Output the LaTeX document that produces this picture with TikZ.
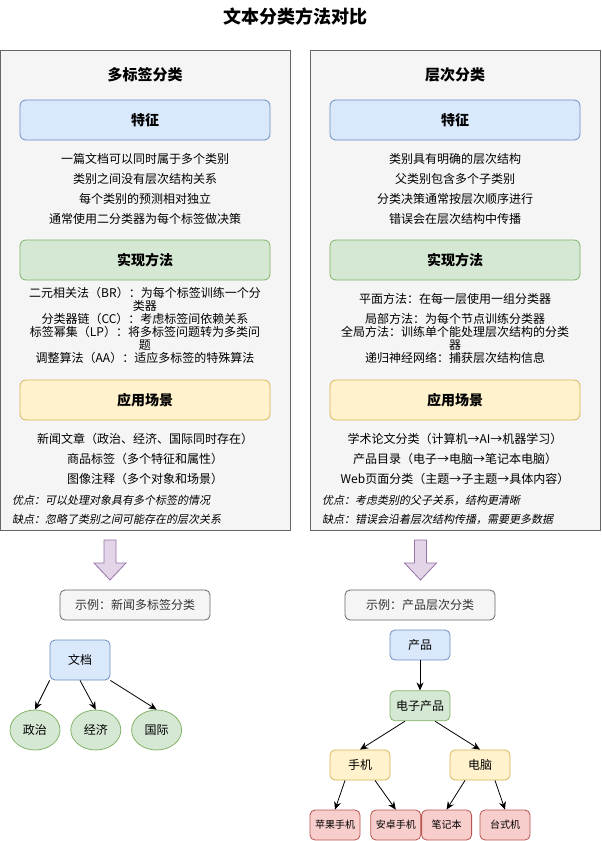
\documentclass[tikz,border=0pt]{standalone}
\usepackage{fontspec}
\setmainfont{Noto Sans CJK SC}
\newfontfamily\slantfont[FakeSlant=0.2]{Noto Sans CJK SC}
\usetikzlibrary{shapes.geometric, arrows.meta, positioning}
\usepackage{xcolor}
\definecolor{panelfill}{HTML}{F5F5F5}
\definecolor{paneldraw}{HTML}{666666}
\definecolor{blufill}{HTML}{DAE8FC}
\definecolor{bludraw}{HTML}{6C8EBF}
\definecolor{grnfill}{HTML}{D5E8D4}
\definecolor{grndraw}{HTML}{82B366}
\definecolor{ylwfill}{HTML}{FFF2CC}
\definecolor{ylwdraw}{HTML}{D6B656}
\definecolor{redfill}{HTML}{F8CECC}
\definecolor{reddraw}{HTML}{B85450}
\definecolor{prpfill}{HTML}{E1D5E7}
\definecolor{prpdraw}{HTML}{9673A6}
\definecolor{txtgray}{HTML}{333333}

\begin{document}
\begin{tikzpicture}[
    x=1pt, y=-1pt,
    node distance=10pt,
    panel/.style={rectangle, draw=paneldraw, fill=panelfill, line width=0.8pt,
                  minimum width=290pt, minimum height=480pt, inner sep=0pt},
    ptitle/.style={font=\fontsize{15pt}{18pt}\selectfont\bfseries},
    secbox/.style={rectangle, rounded corners=6pt, line width=0.8pt,
                   minimum width=250pt, minimum height=40pt, inner sep=0pt,
                   font=\fontsize{14pt}{16pt}\selectfont\bfseries},
    feat/.style={secbox, draw=bludraw, fill=blufill},
    meth/.style={secbox, draw=grndraw, fill=grnfill},
    appl/.style={secbox, draw=ylwdraw, fill=ylwfill},
    body/.style={align=center, inner sep=0pt, font=\fontsize{12pt}{20pt}\selectfont},
    tight/.style={align=center, inner sep=0pt, font=\fontsize{12pt}{13pt}\selectfont},
    note/.style={align=left, inner sep=0pt, anchor=west,
                 font=\fontsize{11pt}{19pt}\selectfont\slantfont},
    example/.style={rectangle, rounded corners=5pt, draw=paneldraw, fill=panelfill,
                    line width=0.8pt, text=txtgray, minimum width=150pt,
                    minimum height=30pt, font=\fontsize{12pt}{14pt}\selectfont},
    bigarrow/.style={draw=prpdraw, fill=prpfill, line width=0.8pt},
    treebox/.style={rectangle, rounded corners=5pt, line width=0.8pt, inner sep=0pt,
                    minimum width=60pt, font=\fontsize{12pt}{14pt}\selectfont},
    root/.style={treebox, draw=bludraw, fill=blufill},
    mid/.style={treebox, draw=grndraw, fill=grnfill, minimum height=30pt},
    sub/.style={treebox, draw=ylwdraw, fill=ylwfill, minimum height=30pt},
    leaf/.style={treebox, draw=reddraw, fill=redfill, minimum width=50pt,
                 minimum height=30pt, font=\fontsize{10pt}{12pt}\selectfont},
    label/.style={ellipse, draw=grndraw, fill=grnfill, line width=0.8pt, inner sep=0pt,
                  minimum width=50pt, minimum height=40pt,
                  font=\fontsize{12pt}{14pt}\selectfont},
    arr/.style={-{Stealth[length=8pt, width=7pt]}, line width=0.8pt}
]
\useasboundingbox (0,0) rectangle (602,841);

%% ── Title ──
\node[font=\fontsize{18pt}{20pt}\selectfont\bfseries] (title) at (295,17) {文本分类方法对比};

%% ── Left panel: multi-label ──
\node[panel] (ML) at (145,290) {};
\node[ptitle] (MLt) at (145,75) {多标签分类};
\node[feat] (MLf) at (145,120) {特征};
\node[body] (MLfx) at (145,189) {一篇文档可以同时属于多个类别\\类别之间没有层次结构关系\\每个类别的预测相对独立\\通常使用二分类器为每个标签做决策};
\node[meth] (MLm) at (145,260) {实现方法};
\node[tight] (MLmx) at (145,325.5) {二元相关法（BR）：为每个标签训练一个分\\类器\\分类器链（CC）：考虑标签间依赖关系\\标签幂集（LP）：将多标签问题转为多类问\\题\\调整算法（AA）：适应多标签的特殊算法};
\node[appl] (MLa) at (145,400) {应用场景};
\node[body] (MLax) at (145,459) {新闻文章（政治、经济、国际同时存在）\\商品标签（多个特征和属性）\\图像注释（多个对象和场景）};
\node[note] (MLn) at (12,509.5) {优点：可以处理对象具有多个标签的情况\\缺点：忽略了类别之间可能存在的层次关系};

%% ── Right panel: hierarchical ──
\node[panel] (HC) at (455,290) {};
\node[ptitle] (HCt) at (455,75) {层次分类};
\node[feat] (HCf) at (455,120) {特征};
\node[body] (HCfx) at (455,189) {类别具有明确的层次结构\\父类别包含多个子类别\\分类决策通常按层次顺序进行\\错误会在层次结构中传播};
\node[meth] (HCm) at (455,260) {实现方法};
\node[tight] (HCm1) at (455,299) {平面方法：在每一层使用一组分类器};
\node[tight] (HCmx) at (455,338) {局部方法：为每个节点训练分类器\\全局方法：训练单个能处理层次结构的分类\\器\\递归神经网络：捕获层次结构信息};
\node[appl] (HCa) at (455,400) {应用场景};
\node[body] (HCax) at (455,459) {学术论文分类（计算机→AI→机器学习）\\产品目录（电子→电脑→笔记本电脑）\\Web页面分类（主题→子主题→具体内容）};
\node[note] (HCn) at (322,509.5) {优点：考虑类别的父子关系，结构更清晰\\缺点：错误会沿着层次结构传播，需要更多数据};

%% ── Down arrows ──
\draw[bigarrow] (104,540) -- (116,540) -- (116,563) -- (126,563) -- (110,580)
    -- (94,563) -- (104,563) -- cycle;
\draw[bigarrow] (414.5,540) -- (426.5,540) -- (426.5,563) -- (436.5,563) -- (420.5,580)
    -- (404.5,563) -- (414.5,563) -- cycle;

%% ── Examples ──
\node[example] (MLex) at (135,605) {示例：新闻多标签分类};
\node[example] (HCex) at (420,605) {示例：产品层次分类};

%% ── Left tree ──
\node[root, minimum height=40pt] (doc) at (80,660) {文档};
\node[label] (pol) at (35,730) {政治};
\node[label, right=10pt of pol] (eco) {经济};
\node[label, right=10pt of eco] (intl) {国际};

\draw[arr] (doc.south west) -- (pol.north);
\draw[arr] (doc.south) -- (eco.north);
\draw[arr] (doc.south east) -- (intl.north);

%% ── Right tree ──
\node[root, minimum height=30pt] (prod) at (420,645) {产品};
\node[mid, below=30pt of prod] (elec) {电子产品};
\node[sub] (phone) at (360,765) {手机};
\node[sub] (pc) at (480,765) {电脑};
\node[leaf] (apple) at (335,825) {苹果手机};
\node[leaf, right=10pt of apple] (andr) {安卓手机};
\node[leaf, right=0pt of andr] (note) {笔记本};
\node[leaf] (desk) at (505,825) {台式机};

\draw[arr] (prod) -- (elec);
\draw[arr] ([xshift=-15pt]elec.south) -- (phone.north);
\draw[arr] ([xshift=15pt]elec.south) -- (pc.north);
\draw[arr] ([xshift=-15pt]phone.south) -- (apple.north);
\draw[arr] ([xshift=15pt]phone.south) -- (andr.north);
\draw[arr] ([xshift=-15pt]pc.south) -- (note.north);
\draw[arr] ([xshift=15pt]pc.south) -- (desk.north);

\end{tikzpicture}
\end{document}
